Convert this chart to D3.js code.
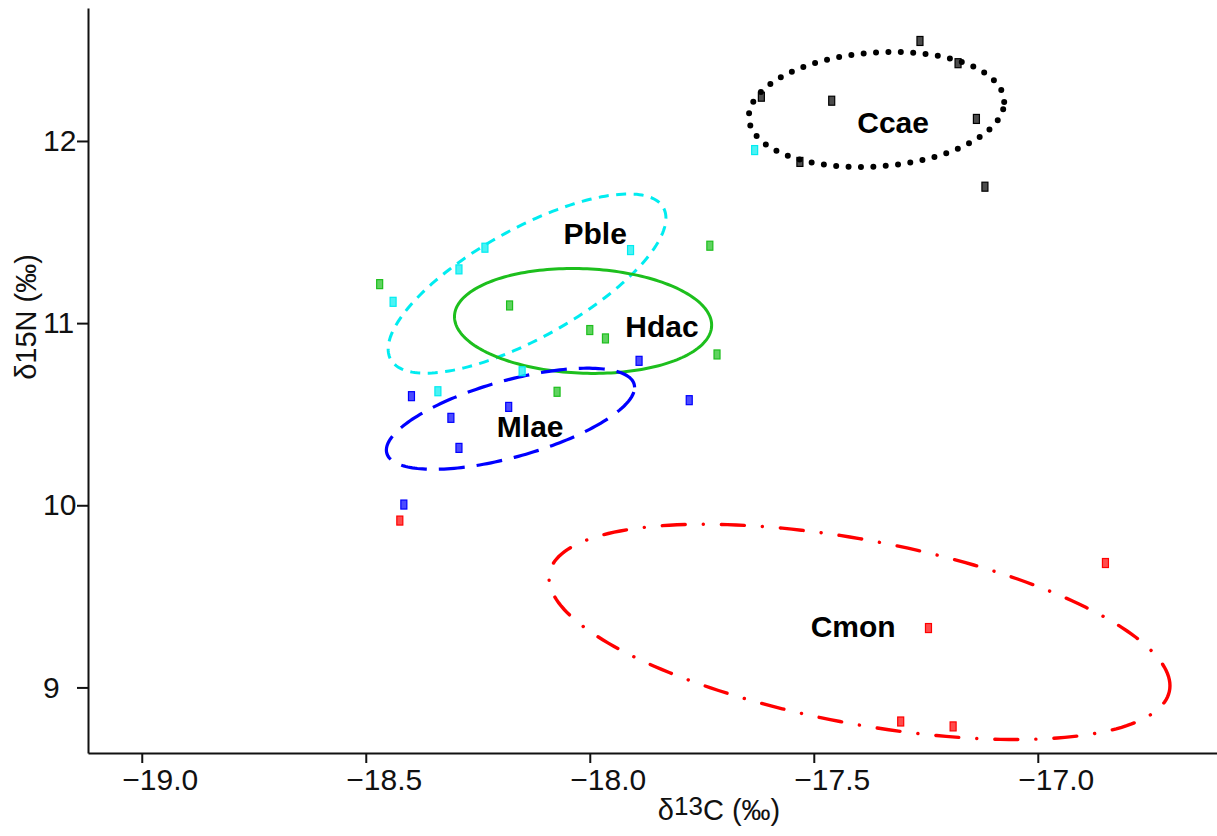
<!DOCTYPE html>
<html>
<head>
<meta charset="utf-8">
<script src="https://cdn.jsdelivr.net/npm/d3@7"></script>
<style>
  html, body { margin: 0; padding: 0; background: #fff; }
  svg { display: block; font-family: 'Liberation Sans', Arial, sans-serif; }
  .axis path, .axis line { stroke: #111; stroke-width: 2; }
  .axis text { font-size: 30px; fill: #111; font-family: 'Liberation Sans', Arial, sans-serif; }
  .group-label { font-size: 30px; font-weight: bold; fill: #000; }
  .axis-title { font-size: 29px; fill: #111; }
</style>
</head>
<body>
<div id="svg-container"></div>
<script>
// species codes, in drawing order
const groups = ['Ccae', 'Pble', 'Hdac', 'Mlae', 'Cmon'];
const groupColors = ['#000000', '#00ecf0', '#1dbf1d', '#0000ff', '#ff0000'];

// [δ13C, δ15N] per individual
const ccaePoints = [[-17.263, 12.549], [-17.178, 12.427], [-17.617, 12.243], [-17.460, 12.221], [-17.137, 12.121], [-17.118, 11.749], [-17.531, 11.885]];
const pblePoints = [[-17.632, 11.950], [-18.234, 11.414], [-17.909, 11.401], [-18.292, 11.295], [-18.439, 11.117], [-18.151, 10.736], [-18.339, 10.626]];
const hdacPoints = [[-17.732, 11.425], [-18.469, 11.214], [-18.179, 11.097], [-18.000, 10.962], [-17.965, 10.916], [-17.716, 10.828], [-18.073, 10.623]];
const mlaePoints = [[-17.890, 10.793], [-18.398, 10.599], [-18.181, 10.540], [-17.778, 10.577], [-18.310, 10.480], [-18.292, 10.315], [-18.415, 10.004]];
const cmonPoints = [[-18.424, 9.916], [-16.849, 9.683], [-17.244, 9.326], [-17.306, 8.813], [-17.189, 8.786]];

// ellipse: [centre C, centre N, half-range C, half-range N, correlation]
const ellipseParams = [
  [-17.360, 12.173, 0.285, 0.316, 0.13],
  [-18.140, 11.217, 0.310, 0.492, 0.73],
  [-18.015, 11.012, 0.287, 0.288, -0.08],
  [-18.177, 10.475, 0.277, 0.2775, 0.62],
  [-17.398, 9.305, 0.693, 0.591, -0.5],
];

// label position [C, N]
const labelPositions = [[-17.323, 12.101], [-17.988, 11.493], [-17.839, 10.985], [-18.133, 10.436], [-17.412, 9.338]];

const xTicks = [-19.0, -18.5, -18.0, -17.5, -17.0];
const yTicks = [9, 10, 11, 12];

const lineStyles = [
  { width: 6, dash: '0 12.4', cap: 'round' },
  { width: 3, dash: '10 7.5', cap: 'butt' },
  { width: 3, dash: null, cap: 'butt' },
  { width: 3.2, dash: '26 12', cap: 'butt' },
  { width: 3.4, dash: '23 18 0.1 18', cap: 'round' },
];

const drawChart = () => {
  const WIDTH = 1217;
  const HEIGHT = 836;

  const svg = d3.create('svg').attr('width', WIDTH).attr('height', HEIGHT);
  svg.append('rect').attr('width', WIDTH).attr('height', HEIGHT).attr('fill', '#fff');

  const xScale = d3.scaleLinear().domain([-19.12, -16.6]).range([88, 1217]);
  const yScale = d3.scaleLinear().domain([8.64, 12.73]).range([753, 8]);

  const minus = (v) => (v < 0 ? '\u2212' : '') + Math.abs(v).toFixed(1);

  const xAxis = svg
    .append('g')
    .attr('class', 'axis')
    .attr('transform', 'translate(0, 753)')
    .call(d3.axisBottom(xScale).tickValues(xTicks).tickSize(10).tickSizeOuter(0).tickFormat(minus));
  xAxis.selectAll('text').attr('text-anchor', 'start').attr('x', -20).attr('y', 16);

  const yAxis = svg
    .append('g')
    .attr('class', 'axis')
    .attr('transform', 'translate(88, 0)')
    .call(d3.axisLeft(yScale).tickValues(yTicks).tickSize(11).tickSizeOuter(0).tickFormat(d3.format('d')));
  yAxis.selectAll('text').attr('text-anchor', 'start').attr('x', -45);

  // ellipses
  const ellipsePoints = ([cx, cy, sx, sy, rho]) =>
    d3.range(0, 200).map((i) => {
      const t = (i / 200) * 2 * Math.PI;
      return [cx + sx * Math.cos(t), cy + sy * (rho * Math.cos(t) + Math.sqrt(1 - rho * rho) * Math.sin(t))];
    });

  const line = d3
    .line()
    .x((d) => xScale(d[0]))
    .y((d) => yScale(d[1]))
    .curve(d3.curveLinearClosed);

  svg
    .append('g')
    .selectAll('path')
    .data(ellipseParams)
    .join('path')
    .attr('d', (d) => line(ellipsePoints(d)))
    .attr('fill', 'none')
    .attr('stroke', (_, i) => groupColors[i])
    .attr('stroke-width', (_, i) => lineStyles[i].width)
    .attr('stroke-dasharray', (_, i) => lineStyles[i].dash)
    .attr('stroke-linecap', (_, i) => lineStyles[i].cap);

  // points
  const allPoints = [ccaePoints, pblePoints, hdacPoints, mlaePoints, cmonPoints];
  allPoints.forEach((points, i) => {
    const g = svg.append('g');
    g.selectAll('rect')
      .data(points)
      .join('rect')
      .attr('x', (d) => xScale(d[0]) - 3)
      .attr('y', (d) => yScale(d[1]) - 4.5)
      .attr('width', 6)
      .attr('height', 9)
      .attr('fill', groupColors[i])
      .attr('fill-opacity', 0.7)
      .attr('stroke', groupColors[i])
      .attr('stroke-width', 1.2);
  });

  // group labels
  svg
    .append('g')
    .selectAll('text')
    .data(groups)
    .join('text')
    .attr('class', 'group-label')
    .attr('x', (_, i) => xScale(labelPositions[i][0]))
    .attr('y', (_, i) => yScale(labelPositions[i][1]))
    .attr('dy', '0.36em')
    .attr('text-anchor', 'middle')
    .text((d) => d);

  // axis titles
  const xTitle = svg
    .append('text')
    .attr('class', 'axis-title')
    .attr('x', 719)
    .attr('y', 820)
    .attr('text-anchor', 'middle');
  xTitle.append('tspan').text('δ');
  xTitle.append('tspan').attr('dy', -5).attr('font-size', 26).text('13');
  xTitle.append('tspan').attr('dy', 5).text('C (‰)');

  svg
    .append('text')
    .attr('class', 'axis-title')
    .attr('transform', 'translate(36, 317) rotate(-90)')
    .attr('text-anchor', 'middle')
    .text('δ15N (‰)');

  document.getElementById('svg-container').appendChild(svg.node());
};

drawChart();
</script>
</body>
</html>
